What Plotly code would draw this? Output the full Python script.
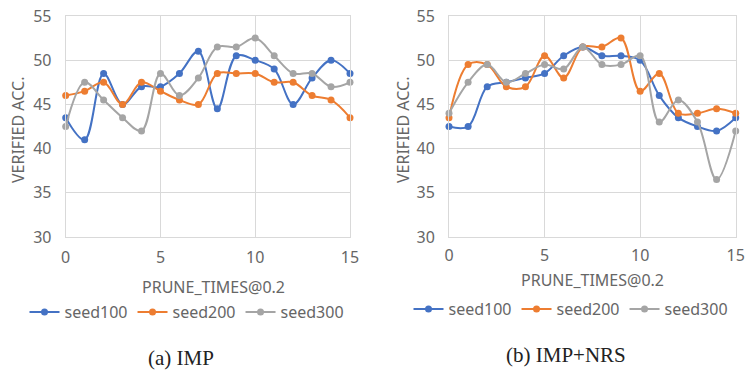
import plotly.graph_objects as go

x = list(range(16))

imp_seed100 = [43.5, 41, 48.5, 45, 47, 47, 48.5, 51, 44.5, 50.5, 50, 49, 45, 48, 50, 48.5]
imp_seed200 = [46, 46.5, 47.5, 45, 47.5, 46.5, 45.5, 45, 48.5, 48.5, 48.5, 47.5, 47.5, 46, 45.5, 43.5]
imp_seed300 = [42.5, 47.5, 45.5, 43.5, 42, 48.5, 46, 48, 51.5, 51.5, 52.5, 50.5, 48.5, 48.5, 47, 47.5]

nrs_seed100 = [42.5, 42.5, 47, 47.5, 48, 48.5, 50.5, 51.5, 50.5, 50.5, 50, 46, 43.5, 42.5, 42, 43.5]
nrs_seed200 = [43.5, 49.5, 49.5, 47, 47, 50.5, 48, 51.5, 51.5, 52.5, 46.5, 48.5, 44, 44, 44.5, 44]
nrs_seed300 = [44, 47.5, 49.5, 47.5, 48.5, 49.5, 49, 51.5, 49.5, 49.5, 50.5, 43, 45.5, 43, 36.5, 42]

names = ["seed100", "seed200", "seed300"]
colors = ["#4472C4", "#ED7D31", "#A5A5A5"]

x_ticks = [0, 5, 10, 15]
y_ticks = [30, 35, 40, 45, 50, 55]

fig = go.Figure()

for data, name, color in zip([imp_seed100, imp_seed200, imp_seed300], names, colors):
    fig.add_trace(go.Scatter(
        x=x, y=data, name=name, mode="lines+markers",
        line=dict(color=color, width=2, shape="spline", smoothing=1),
        marker=dict(color=color, size=7),
        xaxis="x", yaxis="y", legend="legend", cliponaxis=False))

for data, name, color in zip([nrs_seed100, nrs_seed200, nrs_seed300], names, colors):
    fig.add_trace(go.Scatter(
        x=x, y=data, name=name, mode="lines+markers",
        line=dict(color=color, width=2, shape="spline", smoothing=1),
        marker=dict(color=color, size=7),
        xaxis="x2", yaxis="y2", legend="legend2", cliponaxis=False))

W, H = 746, 372
top_px, bot_px = 16, 237
ydom = [1 - bot_px / H, 1 - top_px / H]
font_fam = "Noto Sans, Open Sans, sans-serif"
txt_col = "#666666"
grid_col = "#D9D9D9"

axis_common = dict(showgrid=True, gridcolor=grid_col, gridwidth=1, automargin=False,
                   showline=True, linecolor=grid_col, linewidth=1, mirror=True,
                   zeroline=False, ticks="", tickfont=dict(size=16, color=txt_col, family=font_fam))

fig.update_layout(
    width=W, height=H,
    margin=dict(l=0, r=0, t=0, b=0),
    paper_bgcolor="white", plot_bgcolor="white",
    font=dict(family=font_fam, color=txt_col),
    xaxis=dict(domain=[65.7 / W, 350 / W], range=[0, 15], tickvals=x_ticks,
               anchor="y", ticklabelstandoff=6, **axis_common),
    yaxis=dict(domain=ydom, range=[30, 55], tickvals=y_ticks,
               anchor="x", ticklabelstandoff=10, **axis_common),
    xaxis2=dict(domain=[449 / W, 735.7 / W], range=[0, 15], tickvals=x_ticks,
                anchor="y2", ticklabelstandoff=4, **axis_common),
    yaxis2=dict(domain=ydom, range=[30, 55], tickvals=y_ticks,
                anchor="x2", ticklabelstandoff=10, **axis_common),
    legend=dict(orientation="h", x=187 / W, y=1 - 312 / H, xanchor="center", yanchor="middle",
                font=dict(size=16, color=txt_col, family=font_fam), itemwidth=30,
                bgcolor="rgba(0,0,0,0)"),
    legend2=dict(orientation="h", x=571 / W, y=1 - 309 / H, xanchor="center", yanchor="middle",
                 font=dict(size=16, color=txt_col, family=font_fam), itemwidth=30,
                 bgcolor="rgba(0,0,0,0)"),
    showlegend=True,
)

annots = [
    dict(text="VERIFIED ACC.", x=18 / W, y=1 - 130 / H, textangle=-90, size=16, fam=font_fam, col=txt_col),
    dict(text="VERIFIED ACC.", x=403 / W, y=1 - 130 / H, textangle=-90, size=16, fam=font_fam, col=txt_col),
    dict(text="PRUNE_TIMES@0.2", x=213 / W, y=1 - 287 / H, textangle=0, size=16, fam=font_fam, col=txt_col),
    dict(text="PRUNE_TIMES@0.2", x=592 / W, y=1 - 280 / H, textangle=0, size=16, fam=font_fam, col=txt_col),
    dict(text="(a) IMP", x=181 / W, y=1 - 358 / H, textangle=0, size=21, fam="Liberation Serif, serif", col="#222222"),
    dict(text="(b) IMP+NRS", x=566 / W, y=1 - 355 / H, textangle=0, size=21, fam="Liberation Serif, serif", col="#222222"),
]
for a in annots:
    fig.add_annotation(text=a["text"], x=a["x"], y=a["y"], xref="paper", yref="paper",
                       xanchor="center", yanchor="middle", showarrow=False, textangle=a["textangle"],
                       font=dict(size=a["size"], family=a["fam"], color=a["col"]))

fig.write_html("out.html", config={"displayModeBar": False},
               post_script="document.body.style.margin='0px';document.body.style.overflow='hidden';")
